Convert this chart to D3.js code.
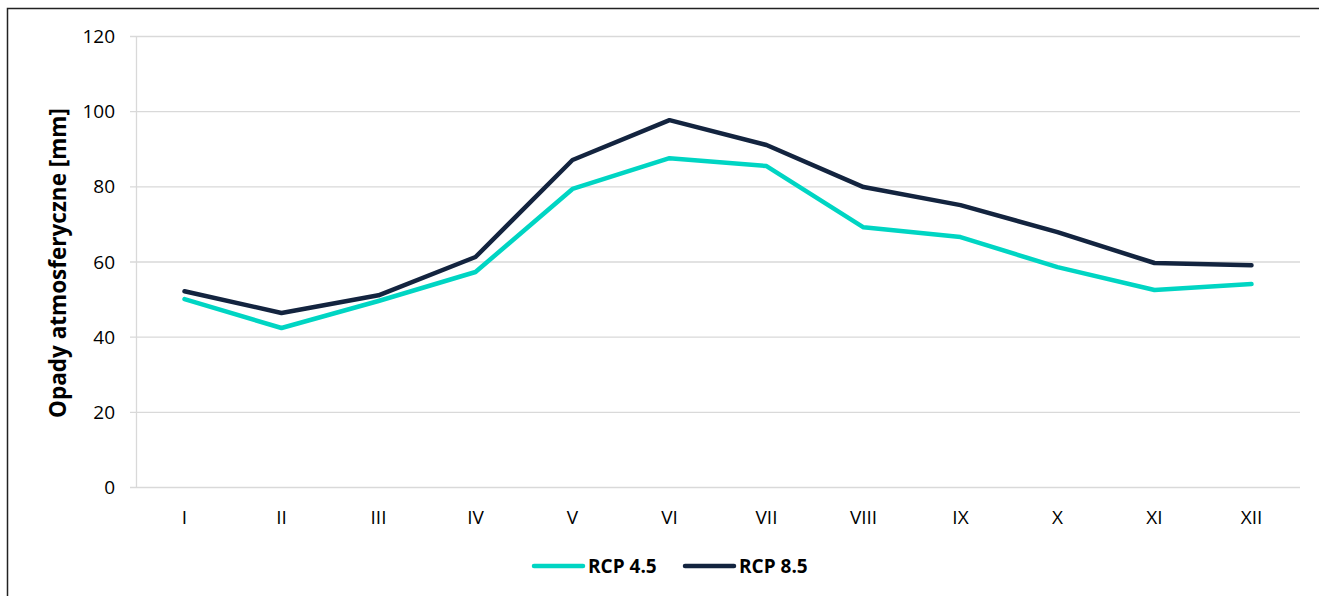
<!DOCTYPE html>
<html>
<head>
<meta charset="utf-8">
<script src="https://cdn.jsdelivr.net/npm/d3@7"></script>
<style>
  body { margin: 0; background: #fff; }
  text { font-family: "Open Sans", "Noto Sans", sans-serif; }
</style>
</head>
<body>
<div id="visualization"></div>
<script>
// chart data
const months = ["I", "II", "III", "IV", "V", "VI", "VII", "VIII", "IX", "X", "XI", "XII"];
const rcp45 = [50, 42.3, 49.5, 57.2, 79.3, 87.5, 85.4, 69.1, 66.5, 58.5, 52.4, 54];
const rcp85 = [52.1, 46.3, 51, 61.2, 87, 97.6, 91, 79.8, 75, 67.8, 59.6, 59];
const yTicks = [0, 20, 40, 60, 80, 100, 120];
const seriesNames = ["RCP 4.5", "RCP 8.5"];
const seriesColors = ["#00d5c3", "#13243f"];

function main() {
    let width = 1319;
    let height = 596;

    let svg = d3.select(document.getElementById('visualization'))
        .append('svg')
        .attr('width', width)
        .attr('height', height);

    // outer frame
    svg.append('rect')
        .attr('x', 7.5).attr('y', 8.5)
        .attr('width', 1320).attr('height', 600)
        .attr('fill', 'none')
        .attr('stroke', '#222')
        .attr('stroke-width', 1.5);

    let left = 136, right = 1300, top = 36, bottom = 487;

    let x = d3.scaleBand().domain(months).range([left, right]);
    let y = d3.scaleLinear().domain([0, 120]).range([bottom, top]);

    // gridlines
    svg.append('g')
        .selectAll('line')
        .data(yTicks)
        .enter()
        .append('line')
            .attr('x1', left - 6)
            .attr('x2', right)
            .attr('y1', (d) => y(d) + 0.5)
            .attr('y2', (d) => y(d) + 0.5)
            .attr('stroke', '#d9d9d9')
            .attr('stroke-width', 1.3);

    // y axis line
    svg.append('line')
        .attr('x1', left + 0.5).attr('x2', left + 0.5)
        .attr('y1', top).attr('y2', bottom)
        .attr('stroke', '#d9d9d9')
        .attr('stroke-width', 1.3);

    // y tick labels
    svg.append('g')
        .selectAll('text')
        .data(yTicks)
        .enter()
        .append('text')
            .attr('x', 115)
            .attr('y', (d) => y(d) + 7)
            .attr('text-anchor', 'end')
            .attr('font-size', '19px')
            .attr('fill', '#000')
            .text((d) => d);

    // x tick labels
    svg.append('g')
        .selectAll('text')
        .data(months)
        .enter()
        .append('text')
            .attr('x', (d) => x(d) + x.bandwidth() / 2)
            .attr('y', 524)
            .attr('text-anchor', 'middle')
            .attr('font-size', '19px')
            .attr('fill', '#000')
            .text((d) => d);

    // y axis title
    svg.append('text')
        .attr('transform', 'translate(66,263) rotate(-90)')
        .attr('text-anchor', 'middle')
        .attr('font-size', '22.5px')
        .attr('font-weight', 'bold')
        .attr('fill', '#000')
        .text('Opady atmosferyczne [mm]');

    // series lines
    let line = d3.line()
        .x((d, i) => x(months[i]) + x.bandwidth() / 2)
        .y((d) => y(d));

    [rcp45, rcp85].forEach((vals, k) => {
        svg.append('path')
            .datum(vals)
            .attr('d', line)
            .attr('fill', 'none')
            .attr('stroke', seriesColors[k])
            .attr('stroke-width', 4.5)
            .attr('stroke-linejoin', 'round')
            .attr('stroke-linecap', 'round');
    });

    // legend
    let legendX = [534, 685];
    seriesNames.forEach((name, k) => {
        let g = svg.append('g').attr('transform', `translate(${legendX[k]},566)`);
        g.append('line')
            .attr('x1', 0).attr('x2', 49)
            .attr('y1', 0).attr('y2', 0)
            .attr('stroke', seriesColors[k])
            .attr('stroke-width', 4.5)
            .attr('stroke-linecap', 'round');
        g.append('text')
            .attr('x', 54)
            .attr('y', 7)
            .attr('font-size', '19px')
            .attr('font-weight', 'bold')
            .attr('fill', '#000')
            .text(name);
    });
}

window.onload = () => {
    main();
}
</script>
</body>
</html>
